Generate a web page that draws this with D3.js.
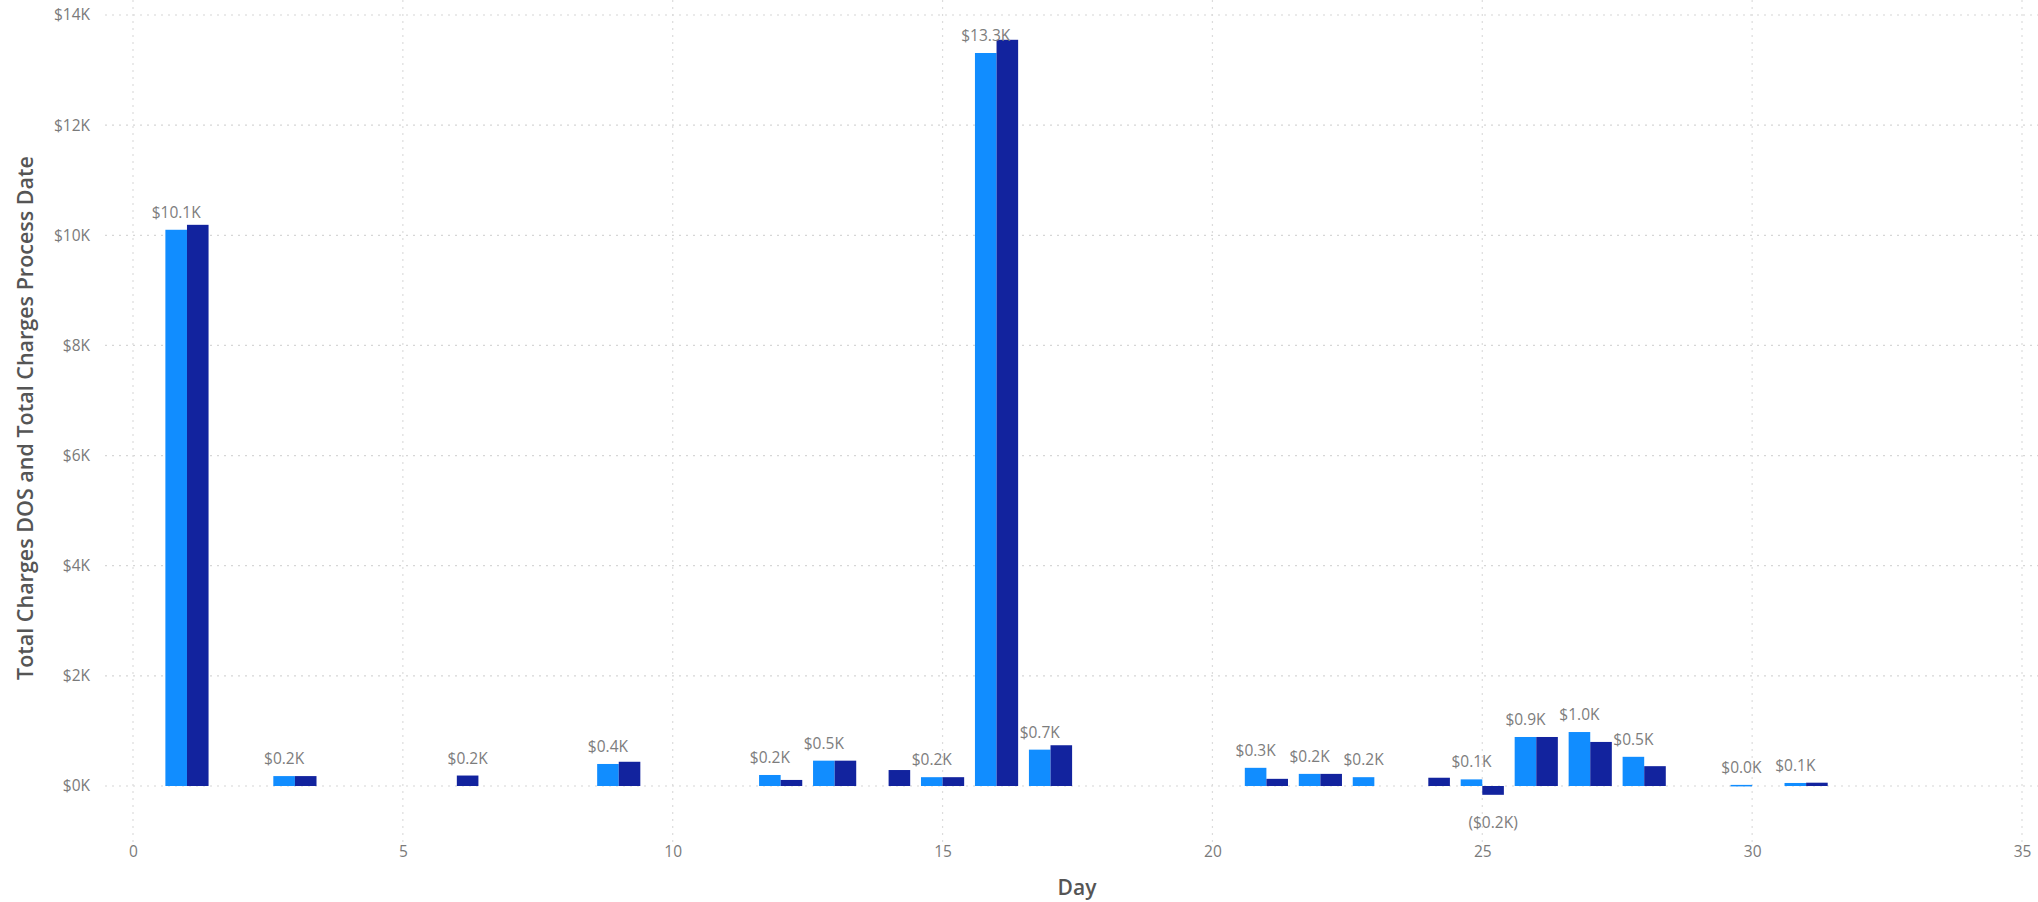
<!DOCTYPE html>
<html>
<head>
<meta charset="utf-8">
<script src="https://cdn.jsdelivr.net/npm/d3@7"></script>
<style>
  html, body { margin: 0; padding: 0; background: #ffffff; }
  svg { display: block; }
</style>
</head>
<body>
<svg id="chart" width="2038" height="902"></svg>
<script>
// ---- data ----
const days = [1, 3, 6, 9, 12, 13, 14, 15, 16, 17, 21, 22, 23, 24, 25, 26, 27, 28, 30, 31];
const chargesDOS = [10100, 180, null, 400, 200, 460, null, 160, 13310, 660, 330, 220, 160, null, 120, 890, 980, 530, 20, 55];
const chargesProcessDate = [10190, 180, 190, 440, 110, 460, 290, 160, 13550, 740, 130, 220, null, 150, -160, 890, 800, 360, null, 60];
const seriesNames = ["Total Charges DOS", "Total Charges Process Date"];
const seriesColors = ["#118DFF", "#12239E"];
const yTicks = [0, 2000, 4000, 6000, 8000, 10000, 12000, 14000];
const xTicks = [0, 5, 10, 15, 20, 25, 30, 35];
const yTitle = "Total Charges DOS and Total Charges Process Date";
const xTitle = "Day";

// ---- layout ----
const svg = d3.select("#chart");
const x = d3.scaleLinear().domain([0, 35]).range([133, 2022]);
const y = d3.scaleLinear().domain([0, 14000]).range([786, 15]);
const gridLeft = 105, gridRight = 2038;
const unit = x(1) - x(0);
const barW = unit * 0.4;

const fmt = v => {
  const s = "$" + (Math.abs(v) / 1000).toFixed(1) + "K";
  return v < 0 ? "(" + s + ")" : s;
};

// gridlines
const grid = svg.append("g");
grid.selectAll("line.h").data(yTicks).join("line")
  .attr("x1", gridLeft).attr("x2", gridRight)
  .attr("y1", d => y(d)).attr("y2", d => y(d))
  .attr("stroke", "#d6d6d6").attr("stroke-width", 1.2)
  .attr("stroke-dasharray", "2,5");
grid.selectAll("line.v").data(xTicks).join("line")
  .attr("x1", d => x(d)).attr("x2", d => x(d))
  .attr("y1", 0).attr("y2", 842)
  .attr("stroke", "#dcdcdc").attr("stroke-width", 1.2)
  .attr("stroke-dasharray", "2,5");

// y axis (labels only)
const yAxis = d3.axisLeft(y).tickValues(yTicks).tickSize(0).tickPadding(0)
  .tickFormat(d => "$" + (d / 1000) + "K");
svg.append("g").attr("transform", "translate(90,0)").call(yAxis)
  .call(g => g.select(".domain").remove())
  .selectAll("text")
  .attr("fill", "#7a7a7a").attr("font-family", "'Open Sans', sans-serif").attr("font-size", 15.5);

// x axis (labels only)
const xAxis = d3.axisBottom(x).tickValues(xTicks).tickSize(0).tickPadding(0);
svg.append("g").attr("transform", "translate(0,846)").call(xAxis)
  .call(g => g.select(".domain").remove())
  .selectAll("text")
  .attr("fill", "#7a7a7a").attr("font-family", "'Open Sans', sans-serif").attr("font-size", 15.5);

// bars
const bars = [];
days.forEach((d, i) => {
  [chargesDOS[i], chargesProcessDate[i]].forEach((v, s) => {
    if (v === null) return;
    bars.push({ day: d, value: v, series: s });
  });
});
const barX = b => x(b.day) - barW + b.series * barW;
svg.append("g").selectAll("rect").data(bars).join("rect")
  .attr("x", barX)
  .attr("width", barW)
  .attr("y", b => Math.min(y(b.value), y(0)))
  .attr("height", b => Math.max(1.5, Math.abs(y(b.value) - y(0))))
  .attr("fill", b => seriesColors[b.series]);

// data labels with overlap avoidance (series 1 first)
const labelG = svg.append("g");
const placed = [];
const ordered = bars.filter(b => b.series === 0).concat(bars.filter(b => b.series === 1));
ordered.forEach(b => {
  const cx = barX(b) + barW / 2;
  const ty = b.value >= 0 ? y(b.value) - 12 : y(b.value) + 33;
  const t = labelG.append("text")
    .attr("x", cx).attr("y", ty)
    .attr("text-anchor", "middle")
    .attr("fill", "#7d7d7d")
    .attr("font-family", "'Open Sans', sans-serif").attr("font-size", 15.5)
    .text(fmt(b.value));
  const bb = t.node().getBBox();
  const hit = placed.some(p => bb.x < p.x + p.width && bb.x + bb.width > p.x && bb.y < p.y + p.height && bb.y + bb.height > p.y);
  if (hit) { t.remove(); } else { placed.push(bb); }
});

// axis titles
svg.append("text")
  .attr("transform", "translate(27,418) rotate(-90)")
  .attr("text-anchor", "middle").attr("dominant-baseline", "middle")
  .attr("fill", "#555").attr("font-family", "'Open Sans', sans-serif")
  .attr("font-weight", 600).attr("font-size", 21.5)
  .text(yTitle);
svg.append("text")
  .attr("x", 1077).attr("y", 895)
  .attr("text-anchor", "middle")
  .attr("fill", "#555").attr("font-family", "'Open Sans', sans-serif")
  .attr("font-weight", 600).attr("font-size", 21)
  .text(xTitle);
</script>
</body>
</html>
